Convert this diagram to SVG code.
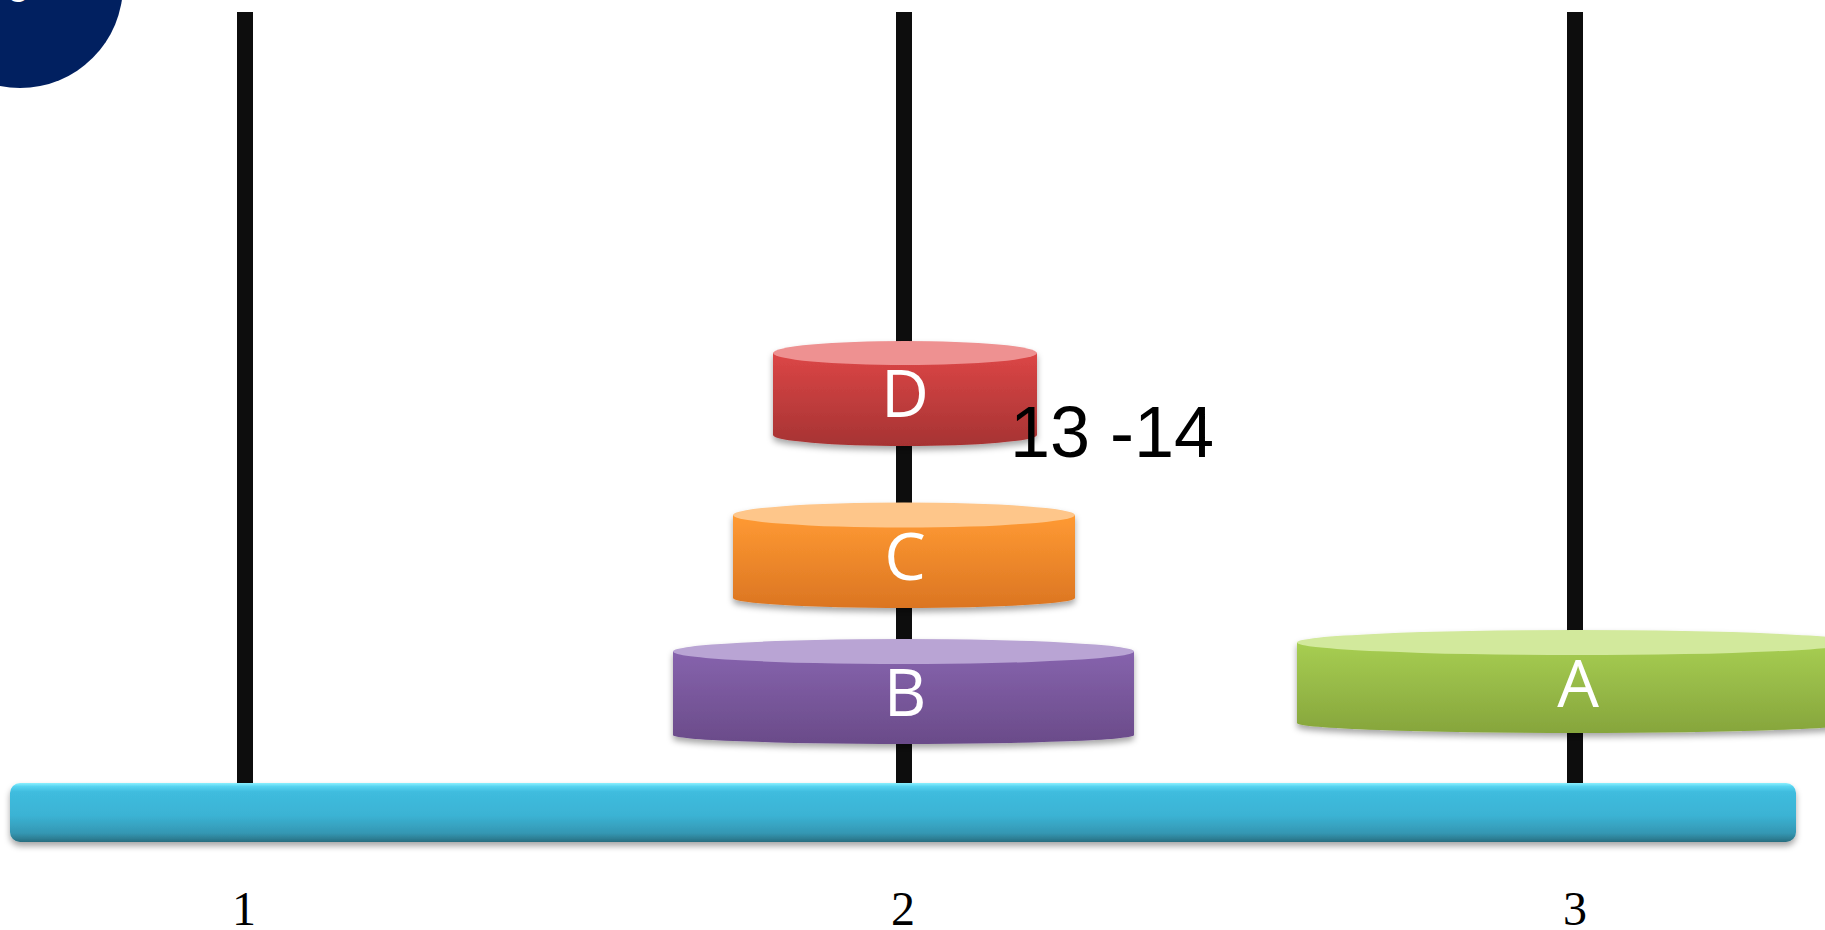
<svg xmlns="http://www.w3.org/2000/svg" width="1825" height="930" viewBox="0 0 1825 930">
  <defs>
    <style>
      .pole { fill: #0d0d0d; }
      .disc-label { font-family: "Open Sans", "Liberation Sans", sans-serif; font-size: 66px; fill: #ffffff; text-anchor: middle; }
      .peg-label { font-family: "Liberation Serif", "Times New Roman", serif; font-size: 48px; fill: #000000; text-anchor: middle; }
      .step { font-family: "Liberation Sans", Arial, sans-serif; font-size: 72px; fill: #000000; }
    </style>
    <linearGradient id="baseGrad" x1="0" y1="0" x2="0" y2="1">
      <stop offset="0" stop-color="#8af0ff"/>
      <stop offset="0.06" stop-color="#56d3f0"/>
      <stop offset="0.15" stop-color="#3fbcde"/>
      <stop offset="0.55" stop-color="#3bb3d4"/>
      <stop offset="0.85" stop-color="#3497b3"/>
      <stop offset="0.94" stop-color="#2d7f95"/>
      <stop offset="1" stop-color="#276c7e"/>
    </linearGradient>
    <linearGradient id="redBody" x1="0" y1="0" x2="0" y2="1">
      <stop offset="0" stop-color="#dc4646"/>
      <stop offset="1" stop-color="#a63333"/>
    </linearGradient>
    <linearGradient id="orangeBody" x1="0" y1="0" x2="0" y2="1">
      <stop offset="0" stop-color="#ff9a33"/>
      <stop offset="1" stop-color="#db7522"/>
    </linearGradient>
    <linearGradient id="purpleBody" x1="0" y1="0" x2="0" y2="1">
      <stop offset="0" stop-color="#8663ad"/>
      <stop offset="1" stop-color="#6a4b89"/>
    </linearGradient>
    <linearGradient id="greenBody" x1="0" y1="0" x2="0" y2="1">
      <stop offset="0" stop-color="#a7ce52"/>
      <stop offset="1" stop-color="#86a53c"/>
    </linearGradient>
    <filter id="softShadow" x="-5%" y="-20%" width="110%" height="150%">
      <feDropShadow dx="0" dy="4" stdDeviation="3" flood-color="#000000" flood-opacity="0.35"/>
    </filter>
  </defs>

  <rect width="1825" height="930" fill="#ffffff"/>

  <!-- corner badge -->
  <g id="badge">
    <circle cx="20" cy="-15" r="103" fill="#012060"/>
    <text x="18" y="2" font-family="Liberation Sans, Arial, sans-serif" font-size="34" font-weight="bold" fill="#ffffff" text-anchor="middle">3</text>
  </g>

  <!-- pegs -->
  <g id="pegs">
    <rect id="peg1" class="pole" x="237" y="12" width="16" height="775"/>
    <rect id="peg2" class="pole" x="896" y="12" width="16" height="775"/>
    <rect id="peg3" class="pole" x="1567" y="12" width="16" height="775"/>
  </g>

  <!-- base board -->
  <g id="base">
    <rect x="10" y="783" width="1786" height="59" rx="10" ry="10" fill="url(#baseGrad)" filter="url(#softShadow)"/>
  </g>

  <!-- disc D (smallest) -->
  <g id="discD" filter="url(#softShadow)">
    <path d="M773,353 L773,435 A132,11 0 0 0 1037,435 L1037,353 Z" fill="url(#redBody)"/>
    <ellipse cx="905" cy="353" rx="132" ry="12" fill="#ee9191"/>
    <text class="disc-label" x="905" y="417">D</text>
  </g>

  <!-- disc C -->
  <g id="discC" filter="url(#softShadow)">
    <path d="M733,515 L733,598 A171,10 0 0 0 1075,598 L1075,515 Z" fill="url(#orangeBody)"/>
    <ellipse cx="904" cy="515" rx="171" ry="12.5" fill="#fec68a"/>
    <text class="disc-label" x="905" y="580">C</text>
  </g>

  <!-- disc B -->
  <g id="discB" filter="url(#softShadow)">
    <path d="M673,651.5 L673,735 A230.5,9 0 0 0 1134,735 L1134,651.5 Z" fill="url(#purpleBody)"/>
    <ellipse cx="903.5" cy="651.5" rx="230.5" ry="12.5" fill="#b9a4d4"/>
    <text class="disc-label" x="905" y="716">B</text>
  </g>

  <!-- disc A (largest) -->
  <g id="discA" filter="url(#softShadow)">
    <path d="M1297,642.5 L1297,723 A280,10 0 0 0 1857,723 L1857,642.5 Z" fill="url(#greenBody)"/>
    <ellipse cx="1577" cy="642.5" rx="280" ry="12.5" fill="#d2e99c"/>
    <text class="disc-label" x="1578" y="707">A</text>
  </g>

  <!-- move counter -->
  <g id="moveLabel">
    <text class="step" x="1010" y="457">13 -14</text>
  </g>

  <!-- peg numbers -->
  <g id="pegLabels">
    <text class="peg-label" x="244" y="925">1</text>
    <text class="peg-label" x="903" y="925">2</text>
    <text class="peg-label" x="1575" y="925">3</text>
  </g>

  <!-- no connectors in this drawing -->
  <g id="connectors"/>
</svg>
